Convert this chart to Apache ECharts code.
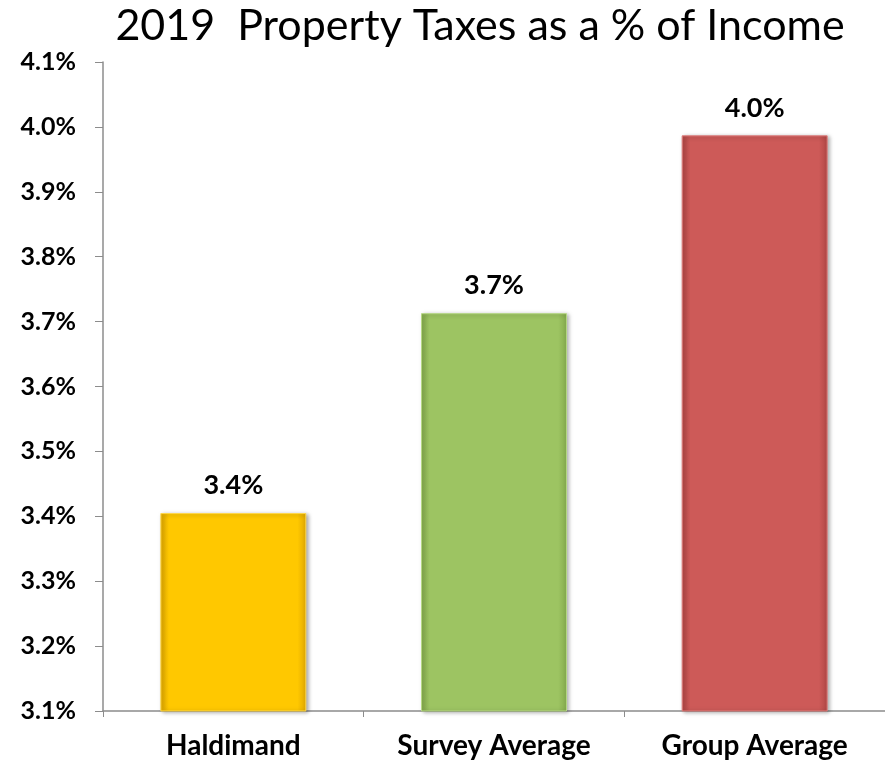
<!DOCTYPE html>
<html>
<head>
<meta charset="utf-8">
<script src="https://cdn.jsdelivr.net/npm/echarts@6/dist/echarts.min.js"></script>
<style>
  html, body { margin: 0; padding: 0; background: #fff; }
  #chart { width: 885px; height: 765px; }
</style>
</head>
<body>
<div id="chart"></div>
<script>
const categories = ['Haldimand', 'Survey Average', 'Group Average'];
const taxShare = [3.405, 3.713, 3.987];
const yTicks = [3.1, 3.2, 3.3, 3.4, 3.5, 3.6, 3.7, 3.8, 3.9, 4.0, 4.1];

// base, light edge, dark edge for each bar
const palette = [
  ['#FFC800', '#FFD84A', '#E0A800'],
  ['#9DC462', '#B6D784', '#84AA4C'],
  ['#CD5A58', '#E07E7C', '#B04644']
];

function barFill(p) {
  return new echarts.graphic.LinearGradient(0, 0, 1, 0, [
    { offset: 0, color: p[2] },
    { offset: 0.06, color: p[0] },
    { offset: 0.94, color: p[0] },
    { offset: 1, color: p[2] }
  ]);
}

const chart = echarts.init(document.getElementById('chart'));
chart.setOption({
  animation: false,
  title: {
    text: '2019  Property Taxes as a % of Income',
    left: 475,
    textAlign: 'center',
    top: 0,
    textStyle: { fontFamily: 'Lato', fontWeight: 'normal', fontSize: 43, color: '#000' }
  },
  grid: { left: 103, top: 62, width: 797, bottom: 54, containLabel: false },
  xAxis: {
    type: 'category',
    data: categories,
    axisLine: { lineStyle: { color: '#8c8c8c', width: 1.5 } },
    axisTick: { show: true, length: 6, lineStyle: { color: '#8c8c8c' } },
    axisLabel: { margin: 21, fontFamily: 'Lato', fontWeight: 'bold', fontSize: 28, color: '#000' }
  },
  yAxis: {
    type: 'value',
    min: yTicks[0],
    max: yTicks[yTicks.length - 1],
    interval: 0.1,
    splitLine: { show: false },
    axisLine: { show: true, lineStyle: { color: '#8c8c8c', width: 1.5 } },
    axisTick: { show: true, length: 8, inside: false, lineStyle: { color: '#8c8c8c' } },
    axisLabel: {
      margin: 27,
      fontFamily: 'Lato', fontWeight: 'bold', fontSize: 25, color: '#000',
      formatter: v => v.toFixed(1) + '%'
    }
  },
  series: [{
    type: 'bar',
    barWidth: '56%',
    data: taxShare.map((v, i) => ({
      value: v,
      itemStyle: {
        color: barFill(palette[i]),
        borderColor: palette[i][1],
        borderWidth: 1,
        shadowColor: 'rgba(0,0,0,0.35)',
        shadowBlur: 4,
        shadowOffsetX: 2,
        shadowOffsetY: 1
      }
    })),
    label: {
      show: true,
      position: 'top',
      distance: 14,
      fontFamily: 'Lato', fontWeight: 'bold', fontSize: 27, color: '#000',
      formatter: p => p.value.toFixed(1) + '%'
    }
  }]
});
</script>
</body>
</html>
